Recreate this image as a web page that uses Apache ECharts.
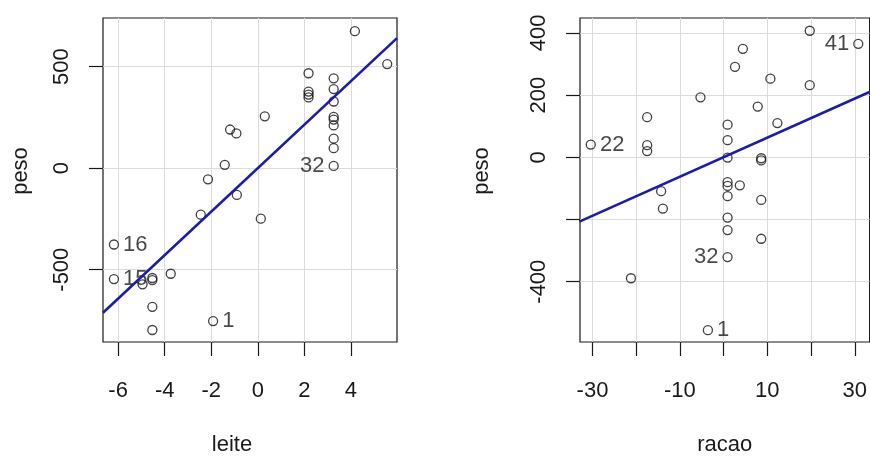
<!DOCTYPE html>
<html>
<head>
<meta charset="utf-8">
<script src="https://cdn.jsdelivr.net/npm/echarts@6/dist/echarts.min.js"></script>
<style>
  html, body { margin: 0; padding: 0; background: #fff; }
  #chart { width: 870px; height: 461px; }
</style>
</head>
<body>
<div id="chart"></div>
<script>
// added-variable plot: peso | leite
const leiteX = [4.17, 5.56, 2.18, 2.18, 2.18, 2.18, 3.26, 3.26, 3.26, 3.26, 3.26, 3.26, 3.26, 3.26, 3.26,
  0.30, -1.19, -0.92, -1.42, -2.14, -0.90, -2.45, 0.13, -6.18, -6.18, -4.95, -4.53, -4.53, -3.74, -4.53, -4.53, -1.92];
const leiteY = [674, 512, 467, 377, 362, 348, 442, 389, 328, 252, 239, 210, 145, 98, 11,
  255, 190, 171, 16, -55, -132, -229, -249, -376, -546, -572, -541, -551, -520, -683, -797, -753];
const leiteTags = ["", "", "", "", "", "", "", "", "", "", "", "", "", "", "32",
  "", "", "", "", "", "", "", "", "16", "15", "", "", "", "", "", "", "1"];
const leiteFitX = [-6.65, 5.98];
const leiteFitY = [-712, 640];

// added-variable plot: peso | racao
const racaoX = [19.7, 30.8, 4.4, 2.6, 10.7, 19.7, -5.3, 7.8, -17.5, 12.3, 0.9, 0.9, -30.4, -17.5, -17.5, 0.9,
  8.6, 8.6, 0.9, 0.9, 3.7, -14.3, -13.9, 0.9, 8.6, 0.9, 0.9, 8.6, 0.9, -21.2, -3.6];
const racaoY = [407, 365, 349, 291, 253, 232, 193, 163, 129, 110, 105, 55, 41, 39, 20, -1,
  -3, -10, -80, -92, -90, -109, -165, -125, -137, -194, -234, -262, -321, -389, -556];
const racaoTags = ["", "41", "", "", "", "", "", "", "", "", "", "", "22", "", "", "",
  "", "", "", "", "", "", "", "", "", "", "", "", "32", "", "1"];
const racaoFitX = [-33, 33.5];
const racaoFitY = [-207, 211];

const leiteTicksX = [-6, -4, -2, 0, 2, 4];
const leiteTicksY = [-500, 0, 500];
const racaoTicksX = [-30, -20, -10, 0, 10, 20, 30];
const racaoLabelsX = [-30, -10, 10, 30];
const racaoTicksY = [-400, -200, 0, 200, 400];
const racaoLabelsY = [-400, 0, 200, 400];

const FONT = "'Liberation Sans', Arial, sans-serif";
const TXT = "#1a1a1a";

const points = (xs, ys, tags) => xs.map((x, i) => {
  const item = { value: [x, ys[i]] };
  if (tags[i]) {
    item.label = {
      show: true,
      formatter: tags[i],
      position: x > 0 ? "left" : "right",
      distance: 4,
      color: TXT,
      fontSize: 22,
      fontFamily: FONT,
    };
  }
  return item;
});

const xAxisBase = (gridIndex, min, max, ticks, labels, name, namePad) => ({
  type: "value",
  gridIndex,
  min,
  max,
  name,
  nameLocation: "middle",
  nameGap: 92,
  nameTextStyle: { color: TXT, fontSize: 22, fontFamily: FONT, padding: namePad },
  axisLine: { show: false, onZero: false },
  axisTick: { show: true, length: 14, customValues: ticks, lineStyle: { color: TXT, width: 1.2 } },
  axisLabel: { customValues: labels, margin: 38, color: TXT, fontSize: 22, fontFamily: FONT },
  splitLine: { show: true, lineStyle: { color: "#dcdcdc", width: 1 } },
});

const yAxisBase = (gridIndex, min, max, ticks, labels, nameGap) => ({
  type: "value",
  gridIndex,
  min,
  max,
  name: "peso",
  nameLocation: "middle",
  nameGap,
  nameRotate: 90,
  nameTextStyle: { color: TXT, fontSize: 22, fontFamily: FONT, padding: [0, 0, 0, 18] },
  axisLine: { show: false, onZero: false },
  axisTick: { show: true, length: 14, customValues: ticks, lineStyle: { color: TXT, width: 1.2 } },
  axisLabel: { customValues: labels, rotate: 90, margin: 30, color: TXT, fontSize: 22, fontFamily: FONT },
  splitLine: { show: true, lineStyle: { color: "#dcdcdc", width: 1 } },
});

const chart = echarts.init(document.getElementById("chart"), null, { renderer: "canvas" });

chart.setOption({
  backgroundColor: "#fff",
  animation: false,
  grid: [
    { left: 103, top: 18, width: 294, height: 328, show: true, borderColor: TXT, borderWidth: 1.2, backgroundColor: "transparent" },
    { left: 580, top: 18, width: 294, height: 328, show: true, borderColor: TXT, borderWidth: 1.2, backgroundColor: "transparent" },
  ],
  xAxis: [
    xAxisBase(0, -6.65, 5.98, leiteTicksX, leiteTicksX, "leite", [0, 36, 0, 0]),
    xAxisBase(1, -32.86, 33.4, racaoTicksX, racaoLabelsX, "racao", 0),
  ],
  yAxis: [
    yAxisBase(0, -856, 739, leiteTicksY, leiteTicksY, 71),
    yAxisBase(1, -594, 448, racaoTicksY, racaoLabelsY, 87),
  ],
  series: [
    {
      type: "scatter",
      xAxisIndex: 0,
      yAxisIndex: 0,
      symbol: "circle",
      symbolSize: 9,
      itemStyle: { color: "rgba(0,0,0,0)", borderColor: "#111", borderWidth: 1.3 },
      data: points(leiteX, leiteY, leiteTags),
    },
    {
      type: "line",
      xAxisIndex: 0,
      yAxisIndex: 0,
      symbol: "none",
      clip: true,
      lineStyle: { color: "#1c1ca8", width: 2.6 },
      data: leiteFitX.map((x, i) => [x, leiteFitY[i]]),
    },
    {
      type: "scatter",
      xAxisIndex: 1,
      yAxisIndex: 1,
      symbol: "circle",
      symbolSize: 9,
      itemStyle: { color: "rgba(0,0,0,0)", borderColor: "#111", borderWidth: 1.3 },
      data: points(racaoX, racaoY, racaoTags),
    },
    {
      type: "line",
      xAxisIndex: 1,
      yAxisIndex: 1,
      symbol: "none",
      clip: true,
      lineStyle: { color: "#1c1ca8", width: 2.6 },
      data: racaoFitX.map((x, i) => [x, racaoFitY[i]]),
    },
  ],
});
</script>
</body>
</html>
